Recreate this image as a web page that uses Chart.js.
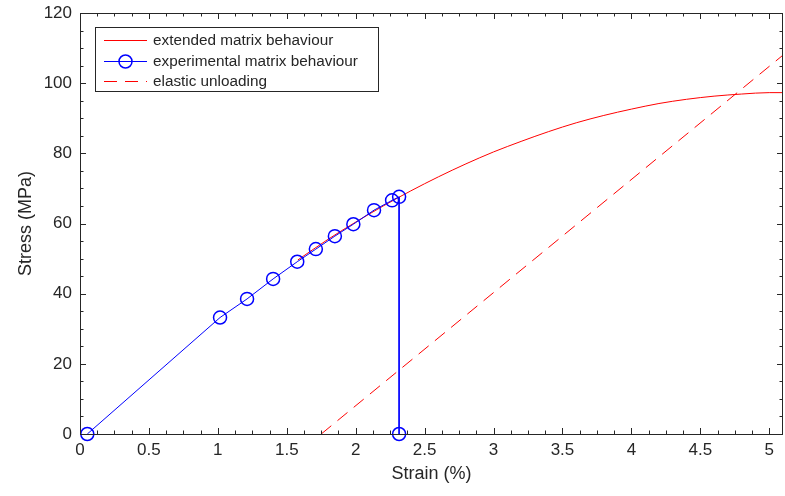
<!DOCTYPE html>
<html>
<head>
<meta charset="utf-8">
<script src="https://cdn.jsdelivr.net/npm/chart.js"></script>
<style>
  html, body { margin: 0; padding: 0; background: #fff; }
  #wrap { width: 785px; height: 496px; }
</style>
</head>
<body>
<div id="wrap"><canvas id="chart" width="785" height="496"></canvas></div>
<script>
// Experimental matrix behaviour (strain %, stress MPa)
const expStrain = [0.053, 1.016, 1.212, 1.401, 1.576, 1.711, 1.849, 1.983, 2.133, 2.264, 2.315, 2.315];
const expStress = [0, 33.2, 38.5, 44.2, 49.1, 52.7, 56.4, 59.8, 63.8, 66.6, 67.6, 0];

// Extended matrix behaviour curve
const extStrain = [1.58, 1.8, 2.0, 2.2, 2.4, 2.6, 2.8, 3.0, 3.2, 3.4, 3.6, 3.8, 4.0, 4.2, 4.4, 4.6, 4.8, 5.0, 5.1];
const extStress = [49.6, 55.5, 60.4, 65.0, 69.3, 73.3, 77.0, 80.4, 83.4, 86.2, 88.7, 90.8, 92.6, 94.2, 95.4, 96.3, 96.9, 97.3, 97.3];

// Elastic unloading line
const unloadStrain = [1.75, 5.1];
const unloadStress = [0, 108];

const xTicks = [0, 0.5, 1, 1.5, 2, 2.5, 3, 3.5, 4, 4.5, 5];
const yTicks = [0, 20, 40, 60, 80, 100, 120];

const seriesNames = ['extended matrix behaviour', 'experimental matrix behaviour', 'elastic unloading'];

const AXIS = '#262626';
const FONT = "'Liberation Sans', Arial, sans-serif";

const toXY = (xs, ys) => xs.map((x, i) => ({ x, y: ys[i] }));

// inward ticks on all four sides plus the axes box
const boxTicks = {
  id: 'boxTicks',
  afterDatasetsDraw(chart) {
    const { ctx, chartArea: a, scales: { x, y } } = chart;
    ctx.save();
    ctx.strokeStyle = AXIS;
    ctx.lineWidth = 1;
    ctx.beginPath();
    for (let v = 0; v <= 5.1001; v += 0.125) {
      const px = Math.round(x.getPixelForValue(v)) + 0.5;
      const major = Math.abs(v / 0.5 - Math.round(v / 0.5)) < 1e-6;
      const len = major ? 6 : 3.5;
      ctx.moveTo(px, a.bottom); ctx.lineTo(px, a.bottom - len);
      ctx.moveTo(px, a.top); ctx.lineTo(px, a.top + len);
    }
    for (let v = 0; v <= 120; v += 5) {
      const py = Math.round(y.getPixelForValue(v)) + 0.5;
      const len = v % 20 === 0 ? 6 : 3.5;
      ctx.moveTo(a.left, py); ctx.lineTo(a.left + len, py);
      ctx.moveTo(a.right, py); ctx.lineTo(a.right - len, py);
    }
    ctx.stroke();
    ctx.strokeRect(Math.round(a.left) + 0.5, Math.round(a.top) + 0.5,
                   Math.round(a.right - a.left) - 1, Math.round(a.bottom - a.top));
    ctx.restore();
  }
};

// legend box in the upper left of the plot
const boxLegend = {
  id: 'boxLegend',
  afterDraw(chart) {
    const { ctx } = chart;
    const bx = 95.5, by = 27.5, bw = 283, bh = 64;
    ctx.save();
    ctx.fillStyle = '#fff';
    ctx.fillRect(bx, by, bw, bh);
    ctx.strokeStyle = AXIS;
    ctx.lineWidth = 1;
    ctx.strokeRect(bx, by, bw, bh);
    const rows = [40, 61, 81];
    chart.data.datasets.forEach((ds, i) => {
      const yy = rows[i] + 0.5;
      ctx.strokeStyle = ds.borderColor;
      ctx.lineWidth = 1;
      ctx.setLineDash(ds.borderDash || []);
      ctx.beginPath();
      ctx.moveTo(104, yy); ctx.lineTo(147, yy);
      ctx.stroke();
      ctx.setLineDash([]);
      if (ds.pointRadius) {
        ctx.beginPath();
        ctx.lineWidth = ds.pointBorderWidth;
        ctx.strokeStyle = ds.pointBorderColor;
        ctx.arc(125.5, yy, ds.pointRadius, 0, Math.PI * 2);
        ctx.stroke();
      }
      ctx.fillStyle = AXIS;
      ctx.font = '15.3px ' + FONT;
      ctx.textBaseline = 'middle';
      ctx.fillText(ds.label, 153, yy);
    });
    ctx.restore();
  }
};

new Chart(document.getElementById('chart'), {
  type: 'scatter',
  data: {
    datasets: [
      {
        label: seriesNames[0],
        data: toXY(extStrain, extStress),
        showLine: true,
        borderColor: '#ff0000',
        borderWidth: 1,
        pointRadius: 0,
        cubicInterpolationMode: 'monotone',
        order: 1
      },
      {
        label: seriesNames[1],
        data: toXY(expStrain, expStress),
        showLine: true,
        borderColor: '#0000ff',
        borderWidth: 1,
        pointRadius: 6.5,
        pointBorderWidth: 1.5,
        pointBorderColor: '#0000ff',
        pointBackgroundColor: 'rgba(0,0,0,0)',
        clip: false,
        order: 0
      },
      {
        label: seriesNames[2],
        data: toXY(unloadStrain, unloadStress),
        showLine: true,
        borderColor: '#ff0000',
        borderWidth: 1,
        borderDash: [13, 8],
        pointRadius: 0,
        order: 2
      }
    ]
  },
  options: {
    responsive: false,
    animation: false,
    layout: { autoPadding: false, padding: { top: 13, right: 2, left: 0, bottom: 0 } },
    plugins: { legend: { display: false }, tooltip: { enabled: false } },
    scales: {
      x: {
        type: 'linear', min: 0, max: 5.1,
        afterBuildTicks: s => { s.ticks = xTicks.map(v => ({ value: v })); },
        afterFit: s => { s.height = 62; s.paddingLeft = 0; s.paddingRight = 0; },
        grid: { display: false, drawTicks: false },
        border: { display: false },
        ticks: { color: AXIS, padding: 6, font: { family: FONT, size: 17 }, maxRotation: 0,
                 callback: v => String(v) },
        title: { display: true, text: 'Strain (%)', color: AXIS,
                 font: { family: FONT, size: 18 }, padding: { top: 0, bottom: 11 } }
      },
      y: {
        type: 'linear', min: 0, max: 120,
        afterBuildTicks: s => { s.ticks = yTicks.map(v => ({ value: v })); },
        afterFit: s => { s.width = 80; s.paddingTop = 0; s.paddingBottom = 0; },
        grid: { display: false, drawTicks: false },
        border: { display: false },
        ticks: { color: AXIS, padding: 8, font: { family: FONT, size: 17 } },
        title: { display: true, text: 'Stress (MPa)', color: AXIS,
                 font: { family: FONT, size: 18 }, padding: { top: 15, bottom: 0 } }
      }
    }
  },
  plugins: [boxTicks, boxLegend]
});
</script>
</body>
</html>
